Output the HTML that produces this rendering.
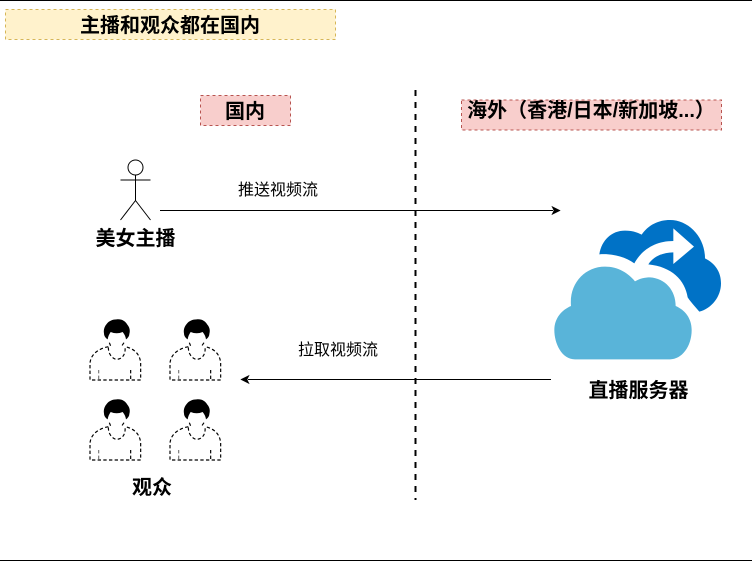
<!DOCTYPE html>
<html lang="zh">
<head>
<meta charset="utf-8">
<style>
html,body{margin:0;padding:0;background:#fff}
svg{display:block}
text{font-family:"Liberation Sans","Noto Sans CJK SC",sans-serif;fill:#000;text-anchor:middle}
.b{font-weight:bold;font-size:20px}
.n{font-size:16px}
</style>
</head>
<body>
<svg width="752" height="562" viewBox="0 0 752 562" xmlns="http://www.w3.org/2000/svg">
<defs>
<g id="p" transform="translate(80,310) scale(.33333)">
<path d="M110 28C125 26 137 34 142 44C149 52 151 62 148 72C148 78 144 84 138 88C137 80 134 74 128 66C116 71 104 71 92 66C87 74 84 80 83 88C77 84 72 78 72 70C70 60 73 50 80 42C86 33 98 28 110 28Z" fill="#000"/>
<g fill="none" stroke="#000" stroke-width="3.5" stroke-dasharray="10 7">
<path d="M85 110C60 115 32 130 30 160L30 210L182 210L182 160C180 130 160 115 135 110"/>
<path d="M85 112C85 135 100 148 110 148C125 148 138 135 135 110"/>
<path d="M88 98L92 108M132 98L125 108"/>
<path d="M152 180L152 210"/>
<path d="M56 180L56 210" stroke="#777"/>
</g>
</g>
</defs>

<rect width="752" height="562" fill="#fff"/>
<path d="M0 .5H752M0 560.5H752" stroke="#000" fill="none"/>

<rect x="5.5" y="9.5" width="330" height="30" fill="#fff2cc" stroke="#d6b656" stroke-dasharray="3 3"/>
<text class="b" x="170" y="32">主播和观众都在国内</text>

<rect x="200.5" y="95.5" width="90" height="30" fill="#f8cecc" stroke="#b85450" stroke-dasharray="3 3"/>
<text class="b" x="245" y="118">国内</text>

<rect x="461.5" y="100" width="260" height="30" fill="#f8cecc" stroke="#b85450" stroke-dasharray="3 3"/>
<text class="b" x="591" y="117">海外（香港/日本/新加坡...）</text>

<path d="M415.5 90V500" stroke="#000" stroke-width="2" stroke-dasharray="6 6" fill="none"/>

<g fill="none" stroke="#000">
<circle cx="135.5" cy="167.5" r="7.5"/>
<path d="M135.5 175V200.5M120.5 180H150.5M135.5 200.5L120.5 220M135.5 200.5L150.5 220"/>
</g>
<text class="b" x="135.5" y="245">美女主播</text>

<path d="M160 210.5H553" stroke="#000" fill="none"/>
<path d="M559.5 210.5L552.5 214L554.25 210.5L552.5 207Z" fill="#000" stroke="#000"/>
<text class="n" x="278" y="195">推送视频流</text>

<path d="M551 379.5H248" stroke="#000" fill="none"/>
<path d="M241.5 379.5L248.5 376L246.75 379.5L248.5 383Z" fill="#000" stroke="#000"/>
<text class="n" x="338" y="355">拉取视频流</text>

<g transform="translate(545,210) scale(.33333)">
<path d="M163 133C170 90 200 62 240 62C260 62 275 66 290 74C310 45 340 30 375 30C430 30 480 80 480 145C510 160 528 185 528 220C528 260 500 295 463 305C455 295 440 280 428 262C420 210 380 170 310 163C325 140 350 128 385 127L385 162L447 110L385 55L385 93C330 93 290 120 268 160C240 140 200 130 163 133Z" fill="#0072c6"/>
<path d="M90 448C50 448 28 400 28 360C28 325 50 300 78 288C72 220 120 170 180 170C220 170 250 190 270 214C285 205 300 202 315 202C360 205 392 240 392 288C420 300 440 325 440 360C440 410 410 448 375 448Z" fill="#59b4d9"/>
</g>
<text class="b" x="638.5" y="397">直播服务器</text>

<use href="#p"/>
<use href="#p" x="80"/>
<use href="#p" y="80"/>
<use href="#p" x="80" y="80"/>
<text class="b" x="152" y="494">观众</text>
</svg>
</body>
</html>
